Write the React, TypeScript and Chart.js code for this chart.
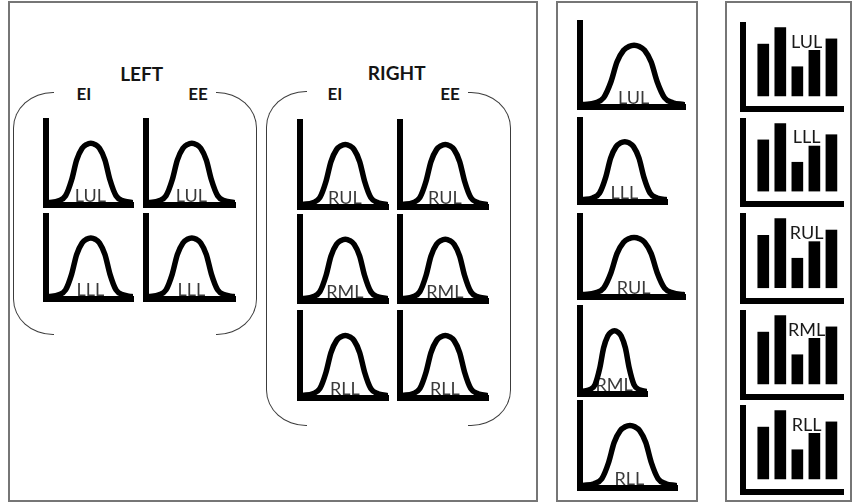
import React, { useEffect, useRef } from 'react';
import { Chart, registerables } from 'chart.js';

Chart.register(...registerables);

// ---------------- data ----------------
const groupTitles = ['LEFT', 'RIGHT'];
const phaseTitles = ['EI', 'EE'];
const leftLobes = ['LUL', 'LLL'];
const rightLobes = ['RUL', 'RML', 'RLL'];
const allLobes = ['LUL', 'LLL', 'RUL', 'RML', 'RLL'];

// bell-shaped curve (x, y in 0..10 axis units)
const bellX = [0.3, 1.45, 2.25, 2.95, 3.52, 4.15, 4.65, 5.15, 5.65, 6.15, 6.78, 7.35, 8.05, 8.85, 9.85];
const bellY = [0.3, 0.5, 1.1, 3.0, 5.35, 6.75, 7.2, 7.35, 7.2, 6.75, 5.35, 3.0, 1.1, 0.5, 0.3];

// bar icon
const barCategories = [1, 2, 3, 4, 5];
const barValues = [51.5, 68, 29, 45.3, 56.7];

// ---------------- layout / style ----------------
const FONT = 'Lato, "Open Sans", sans-serif';
const PAD = 6;
const AXIS_W = 6;

type Geo = { ax: number; top: number; base: number; right: number };

const leftCols = [
  { ax: 46, right: 133 },
  { ax: 146, right: 235 },
];
const leftRows = [
  { top: 118, base: 205 },
  { top: 213, base: 299 },
];
const rightCols = [
  { ax: 300, right: 388 },
  { ax: 400, right: 488 },
];
const rightRows = [
  { top: 118.5, base: 206 },
  { top: 213.5, base: 300 },
  { top: 309.5, base: 397 },
];
const middleGeo: Geo[] = [
  { ax: 580, top: 20, base: 107, right: 685 },
  { ax: 580, top: 117, base: 202, right: 667 },
  { ax: 580, top: 213, base: 297, right: 685 },
  { ax: 580, top: 304.5, base: 393, right: 647 },
  { ax: 580, top: 399.5, base: 487, right: 677 },
];
const barGeo: Geo[] = [
  { ax: 743.3, top: 21.7, base: 108.3, right: 843 },
  { ax: 743.3, top: 118.3, base: 204, right: 843 },
  { ax: 743.3, top: 213.3, base: 301.7, right: 843 },
  { ax: 743.3, top: 310, base: 396.7, right: 843 },
  { ax: 743.3, top: 405, base: 492, right: 843 },
];

const labelPlugin = {
  id: 'miniLabel',
  beforeDatasetsDraw(chart: any, _a: any, opts: any) {
    if (opts.behind) drawLabel(chart, opts);
  },
  afterDatasetsDraw(chart: any, _a: any, opts: any) {
    if (!opts.behind) drawLabel(chart, opts);
  },
};

function drawLabel(chart: any, opts: any) {
  const { ctx, scales } = chart;
  ctx.save();
  ctx.font = opts.font;
  ctx.fillStyle = opts.color;
  ctx.textAlign = 'center';
  ctx.textBaseline = 'alphabetic';
  const x = scales.x.getPixelForValue(opts.x);
  const y = scales.y.getPixelForValue(opts.y) + (opts.dy || 0);
  ctx.fillText(opts.text, x, y);
  ctx.restore();
}

const axisOpts = (min: number, max: number, extra: any = {}) => ({
  type: 'linear',
  min,
  max,
  display: true,
  grid: { display: false, drawTicks: false },
  ticks: { display: false },
  border: { display: true, color: '#000', width: AXIS_W },
  ...extra,
});

function bellConfig(label: string): any {
  return {
    type: 'line',
    data: {
      datasets: [
        {
          data: bellX.map((x, i) => ({ x, y: bellY[i] })),
          borderColor: '#000',
          borderWidth: 5.5,
          pointRadius: 0,
          fill: false,
          cubicInterpolationMode: 'monotone',
          borderCapStyle: 'round',
          borderJoinStyle: 'round',
        },
      ],
    },
    options: {
      animation: false,
      responsive: false,
      devicePixelRatio: 1,
      events: [],
      layout: { padding: PAD },
      scales: {
        x: axisOpts(0, 10, { position: 'bottom' }),
        y: axisOpts(0, 10, { position: 'left' }),
      },
      plugins: {
        legend: { display: false },
        tooltip: { enabled: false },
        miniLabel: {
          text: label,
          x: 5.1,
          y: 0,
          dy: -3.5,
          behind: true,
          font: `18px ${FONT}`,
          color: '#3a3a3a',
        },
      },
    },
    plugins: [labelPlugin],
  };
}

function barConfig(label: string): any {
  return {
    type: 'bar',
    data: {
      datasets: [
        {
          data: barCategories.map((c, i) => ({ x: c, y: barValues[i] })),
          backgroundColor: '#000',
          borderWidth: 0,
          barThickness: 11,
        },
      ],
    },
    options: {
      animation: false,
      responsive: false,
      devicePixelRatio: 1,
      events: [],
      layout: { padding: PAD },
      scales: {
        x: axisOpts(-0.19, 5.68, { position: 'bottom', offset: false }),
        y: axisOpts(-13, 70.5, { position: 'left', beginAtZero: false }),
      },
      plugins: {
        legend: { display: false },
        tooltip: { enabled: false },
        miniLabel: {
          text: label,
          x: 3.55,
          y: 48,
          dy: 0,
          behind: false,
          font: `18px ${FONT}`,
          color: '#1a1a1a',
        },
      },
    },
    plugins: [labelPlugin],
  };
}

function MiniChart({ kind, geo, label }: { kind: 'bell' | 'bar'; geo: Geo; label: string }) {
  const ref = useRef<HTMLCanvasElement>(null);
  const chartTop = geo.top + AXIS_W / 2;
  const w = Math.round(geo.right - geo.ax + 2 * PAD);
  const h = Math.round(geo.base - chartTop + 2 * PAD);
  useEffect(() => {
    const cfg = kind === 'bell' ? bellConfig(label) : barConfig(label);
    const chart = new Chart(ref.current as HTMLCanvasElement, cfg);
    return () => chart.destroy();
  }, [kind, label]);
  return (
    <canvas
      ref={ref}
      width={w}
      height={h}
      style={{
        position: 'absolute',
        left: Math.round(geo.ax - PAD),
        top: Math.round(chartTop - PAD),
        width: w,
        height: h,
      }}
    />
  );
}

function Box({ x1, y1, x2, y2 }: { x1: number; y1: number; x2: number; y2: number }) {
  return (
    <div
      style={{
        position: 'absolute',
        left: x1,
        top: y1,
        width: x2 - x1,
        height: y2 - y1,
        border: '2px solid #767676',
        boxSizing: 'border-box',
      }}
    />
  );
}

const BR_COLOR = '#3c3c3c';
const BR_W = 1.5;

function Bracket({ x, xEnd, y1, y2, side }: { x: number; xEnd: number; y1: number; y2: number; side: 'l' | 'r' }) {
  const left = Math.min(x, xEnd) - BR_W / 2;
  const width = Math.abs(xEnd - x) + BR_W;
  const b = `${BR_W}px solid ${BR_COLOR}`;
  const style: any = {
    position: 'absolute',
    left,
    top: y1 - BR_W / 2,
    width,
    height: y2 - y1 + BR_W,
    borderTop: b,
    borderBottom: b,
    boxSizing: 'border-box',
  };
  if (side === 'l') {
    style.borderLeft = b;
    style.borderRadius = '40px 0 0 40px / 36px 0 0 36px';
  } else {
    style.borderRight = b;
    style.borderRadius = '0 40px 40px 0 / 0 36px 36px 0';
  }
  return <div style={style} />;
}

function Title({ text, x, y, size }: { text: string; x: number; y: number; size: number }) {
  return (
    <div
      style={{
        position: 'absolute',
        left: x,
        top: y,
        transform: 'translate(-50%, -50%)',
        fontFamily: FONT,
        fontWeight: 700,
        fontSize: size,
        lineHeight: 1,
        color: '#151515',
        whiteSpace: 'nowrap',
      }}
    >
      {text}
    </div>
  );
}

export default function App() {
  const bells: { geo: Geo; label: string }[] = [];
  leftRows.forEach((r, ri) =>
    leftCols.forEach((c) => bells.push({ geo: { ...c, ...r }, label: leftLobes[ri] }))
  );
  rightRows.forEach((r, ri) =>
    rightCols.forEach((c) => bells.push({ geo: { ...c, ...r }, label: rightLobes[ri] }))
  );
  middleGeo.forEach((g, i) => bells.push({ geo: g, label: allLobes[i] }));

  return (
    <div
      style={{
        position: 'absolute',
        left: 0,
        top: 0,
        width: 858,
        height: 504,
        background: '#fff',
        overflow: 'hidden',
      }}
    >
      <Box x1={8} y1={1} x2={538} y2={502} />
      <Box x1={556} y1={1} x2={698} y2={502} />
      <Box x1={725} y1={1} x2={852} y2={502} />

      <Title text={groupTitles[0]} x={141.7} y={72.5} size={19} />
      <Title text={phaseTitles[0]} x={84} y={93} size={17} />
      <Title text={phaseTitles[1]} x={198} y={93} size={17} />
      <Title text={groupTitles[1]} x={396.7} y={71.7} size={19} />
      <Title text={phaseTitles[0]} x={335} y={92.7} size={17} />
      <Title text={phaseTitles[1]} x={450} y={93} size={17} />

      <Bracket x={13.3} xEnd={53.3} y1={92.5} y2={334} side="l" />
      <Bracket x={256.7} xEnd={216.7} y1={93} y2={334.3} side="r" />
      <Bracket x={266.7} xEnd={306.7} y1={92} y2={425} side="l" />
      <Bracket x={510} xEnd={468.3} y1={92.7} y2={425} side="r" />

      {bells.map((b, i) => (
        <MiniChart key={'b' + i} kind="bell" geo={b.geo} label={b.label} />
      ))}
      {barGeo.map((g, i) => (
        <MiniChart key={'r' + i} kind="bar" geo={g} label={allLobes[i]} />
      ))}
    </div>
  );
}
